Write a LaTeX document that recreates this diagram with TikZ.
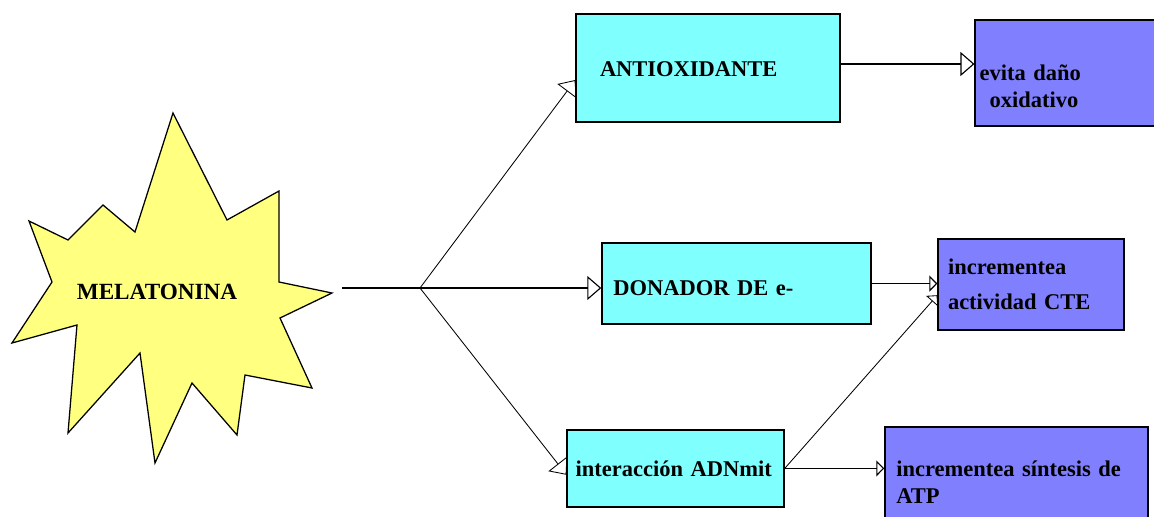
\documentclass[tikz,border=0pt]{standalone}
\usepackage{fontspec}
\setmainfont{Liberation Serif}
\usetikzlibrary{arrows.meta}
\definecolor{starfill}{HTML}{FFFF80}
\definecolor{boxcyan}{HTML}{80FFFF}
\definecolor{boxviolet}{HTML}{8080FF}

\begin{document}
\begin{tikzpicture}[line join=miter, font=\fontsize{16}{19.2}\selectfont\bfseries,
	bigtip/.style={-{Triangle[open, length=0.35cm, width=0.6cm]}},
	smalltip/.style={-{Triangle[open, length=0.2cm, width=0.4cm]}},
	cbox/.style={draw, line width=0.9pt, fill=boxcyan, align=left, anchor=center},
	vbox/.style={draw, line width=0.9pt, fill=boxviolet, align=left, anchor=center}]
\useasboundingbox (0,0) rectangle (28.85,-12.925);
%========================
% Left: star
%========================
\draw[line width=0.9pt, fill=starfill]
	(4.325,-2.825) -- (5.675,-5.5) -- (6.975,-4.775) -- (6.975,-7.05) -- (8.3,-7.325)
	-- (7.0,-7.95) -- (7.8,-9.7) -- (6.125,-9.375) -- (5.925,-10.875) -- (4.8,-9.575)
	-- (3.875,-11.575) -- (3.5,-8.825) -- (1.7,-10.825) -- (1.925,-8.125) -- (0.3,-8.575)
	-- (1.3,-7.05) -- (0.725,-5.525) -- (1.7,-6.0) -- (2.575,-5.125) -- (3.375,-5.8) -- cycle;
\node[font=\fontsize{16.5}{19.8}\selectfont\bfseries] (mel) at (3.925,-7.3) {MELATONINA};

% fork point
\coordinate (melout) at (8.55,-7.2);
\coordinate (fork) at (10.5,-7.2);

%========================
% Middle: cyan boxes
%========================
\node[cbox, minimum width=6.6cm, minimum height=2.7cm, text width=5.4cm, text height=0.6cm, text depth=0.2cm] (anti) at (17.7,-1.7) {ANTIOXIDANTE};
\node[cbox, minimum width=6.725cm, minimum height=2.025cm, text width=6.15cm, text height=0.8cm, text depth=0.2cm] (don) at (18.41,-7.09) {DONADOR DE e-};
\node[cbox, minimum width=5.425cm, minimum height=1.925cm, text width=5.0cm, inner xsep=0.2cm] (inter) at (16.89,-11.71) {interacción ADNmit};

%========================
% Right: violet boxes
%========================
\node[vbox, minimum width=4.825cm, minimum height=2.65cm, text width=4.6cm, inner xsep=0.1cm, text height=1.05cm] (evita) at (26.79,-1.825)
	{evita daño\\ \hspace*{0.25cm}oxidativo};
\node[vbox, minimum width=4.65cm, minimum height=2.275cm, text width=4.15cm, inner xsep=0.25cm] (cte) at (25.775,-7.11)
	{incrementea\\[6pt] actividad CTE};
\node[vbox, minimum width=6.575cm, minimum height=2.525cm, text width=6.0cm, text depth=0.45cm] (sint) at (25.41,-11.94)
	{incrementea síntesis de\\ ATP};

% connectors
\coordinate (antiout) at ([yshift=0.1cm]anti.east);
\draw[line width=0.8pt] (melout) -- (fork);
\draw[bigtip, line width=0.6pt] (fork) -- ([yshift=-0.3cm]anti.west);
\draw[bigtip, line width=0.8pt] (fork) -- (fork -| don.west);
\draw[bigtip, line width=0.6pt] (fork) -- ([yshift=-0.16cm]inter.west);
\draw[bigtip, line width=0.8pt] (antiout) -- (antiout -| evita.west);
\draw[smalltip, line width=0.8pt] (don.east) -- (don.east -| cte.west);
\draw[smalltip, line width=0.8pt] (inter.east) -- (inter.east -| sint.west);
\draw[smalltip, line width=0.6pt] (inter.east) -- ([yshift=-0.27cm]cte.west);
\end{tikzpicture}
\end{document}
